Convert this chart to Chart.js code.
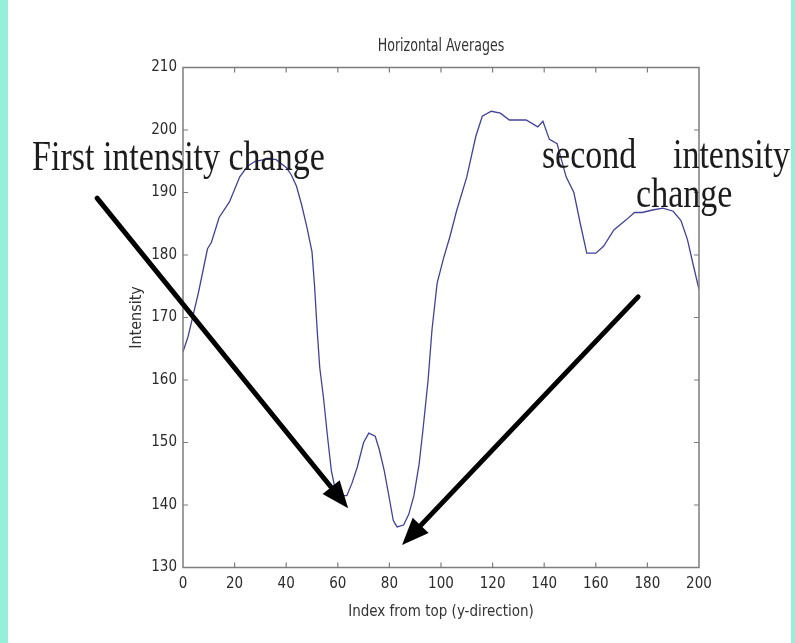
<!DOCTYPE html>
<html>
<head>
<meta charset="utf-8">
<script src="https://cdn.jsdelivr.net/npm/chart.js@4.4.1/dist/chart.umd.min.js"></script>
<style>
  html, body { margin: 0; padding: 0; background: #96f0d9; width: 795px; height: 643px; overflow: hidden; }
  #wrap { position: absolute; left: 8px; top: 0; width: 783px; height: 643px; background: #ffffff; }
  canvas { display: block; }
</style>
</head>
<body>
<div id="wrap"><canvas id="c" width="783" height="643"></canvas></div>
<script>
// ---- data ----
const indexFromTop = [0, 2, 4, 6, 8, 9.5, 11, 14, 18, 22, 25, 28, 32, 36, 40, 42, 44, 46, 48, 50,
  51, 52, 53, 54.5, 56, 57.5, 59, 61, 63.5, 65.5, 67.5, 70, 72, 74.5, 76, 78, 80, 81.5, 83, 85.5,
  87.5, 89.5, 91.5, 93, 95, 96.5, 98.5, 101, 103.5, 106, 110, 113.5, 116, 119.5, 123, 126.5, 133,
  137.5, 139.5, 142, 145, 148.5, 151.5, 154, 156.5, 160, 163, 167, 172, 175, 178, 182, 186, 190,
  193, 195.5, 198, 200];
const intensity = [164.5, 167, 170.5, 174, 178, 181, 182, 186, 188.5, 192.5, 194.2, 195, 195.3, 195.3, 194, 192.8, 191, 188, 184.5, 180.5,
  175, 168, 162, 157, 151, 145.5, 142.5, 141.5, 141.5, 143.5, 146, 150, 151.5, 151, 149, 145.5, 141, 137.5, 136.5, 136.8,
  138.5, 141.5, 146.5, 152, 160, 168, 175.5, 179.5, 183, 187, 192.5, 199, 202.2, 203, 202.7, 201.6, 201.6,
  200.5, 201.4, 198.5, 197.8, 192.5, 190, 185, 180.3, 180.3, 181.4, 184, 185.7, 186.8, 186.8, 187.2, 187.5, 187,
  185.5, 182.5, 178, 174.5];

const xRange = [0, 200];
const yRange = [130, 210];
const xStep = 20;
const yStep = 10;

const chartTitle = "Horizontal Averages";
const xTitle = "Index from top (y-direction)";
const yTitle = "Intensity";

// annotation texts (anchored in data coordinates)
const noteTexts = ["First intensity change", "second", "intensity", "change"];
const noteX = [-58.5, 139.1, 189.9, 175.6];
const noteY = [193.6, 193.9, 193.9, 187.7];

// arrows: start -> tip, in data coordinates
const arrowFromX = [-33.3, 176.4];
const arrowFromY = [189.1, 173.3];
const arrowToX = [64, 84.9];
const arrowToY = [139.5, 133.6];

const points = indexFromTop.map((x, i) => ({ x: x, y: intensity[i] }));

const frameColor = '#7d7d7d';
const smallFont = '"DejaVu Sans Condensed", "Liberation Sans", Arial, sans-serif';

const framePlugin = {
  id: 'matlabFrame',
  afterDraw(chart) {
    const { ctx, chartArea: a, scales } = chart;
    ctx.save();
    ctx.strokeStyle = frameColor;
    ctx.lineWidth = 1.5;
    ctx.strokeRect(a.left, a.top, a.right - a.left, a.bottom - a.top);
    const len = 5;
    ctx.lineWidth = 1.2;
    ctx.beginPath();
    scales.x.ticks.forEach(t => {
      const px = scales.x.getPixelForValue(t.value);
      if (t.value === xRange[0] || t.value === xRange[1]) return;
      ctx.moveTo(px, a.bottom); ctx.lineTo(px, a.bottom - len);
      ctx.moveTo(px, a.top); ctx.lineTo(px, a.top + len);
    });
    scales.y.ticks.forEach(t => {
      const py = scales.y.getPixelForValue(t.value);
      if (t.value === yRange[0] || t.value === yRange[1]) return;
      ctx.moveTo(a.left, py); ctx.lineTo(a.left + len, py);
      ctx.moveTo(a.right, py); ctx.lineTo(a.right - len, py);
    });
    ctx.stroke();

    // title
    ctx.fillStyle = '#333333';
    ctx.font = '14px ' + smallFont;
    ctx.textAlign = 'center';
    ctx.textBaseline = 'middle';
    ctx.save();
    ctx.translate((a.left + a.right) / 2, a.top - 21);
    ctx.scale(1, 1.2);
    ctx.fillText(chartTitle, 0, 0);
    ctx.restore();

    // arrows
    ctx.strokeStyle = '#000000';
    ctx.fillStyle = '#000000';
    for (let i = 0; i < arrowFromX.length; i++) {
      const x0 = scales.x.getPixelForValue(arrowFromX[i]);
      const y0 = scales.y.getPixelForValue(arrowFromY[i]);
      const x1 = scales.x.getPixelForValue(arrowToX[i]);
      const y1 = scales.y.getPixelForValue(arrowToY[i]);
      const ang = Math.atan2(y1 - y0, x1 - x0);
      const headLen = 27, headHalf = 11;
      const bx = x1 - headLen * Math.cos(ang), by = y1 - headLen * Math.sin(ang);
      ctx.lineWidth = 5;
      ctx.lineCap = 'round';
      ctx.beginPath();
      ctx.moveTo(x0, y0); ctx.lineTo(bx + 3 * Math.cos(ang), by + 3 * Math.sin(ang));
      ctx.stroke();
      ctx.beginPath();
      ctx.moveTo(x1, y1);
      ctx.lineTo(bx - headHalf * Math.sin(ang), by + headHalf * Math.cos(ang));
      ctx.lineTo(bx + headHalf * Math.sin(ang), by - headHalf * Math.cos(ang));
      ctx.closePath();
      ctx.fill();
    }

    // annotation texts
    ctx.fillStyle = '#1c1c1c';
    ctx.font = '34px "Liberation Serif", "Times New Roman", serif';
    ctx.textAlign = 'left';
    ctx.textBaseline = 'alphabetic';
    for (let i = 0; i < noteTexts.length; i++) {
      const px = scales.x.getPixelForValue(noteX[i]);
      const py = scales.y.getPixelForValue(noteY[i]);
      ctx.save();
      ctx.translate(px, py);
      ctx.scale(1, 1.24);
      ctx.fillText(noteTexts[i], 0, 0);
      ctx.restore();
    }
    ctx.restore();
  }
};

new Chart(document.getElementById('c'), {
  type: 'line',
  data: {
    datasets: [{
      data: points,
      borderColor: '#41419c',
      borderWidth: 1.3,
      pointRadius: 0,
      tension: 0,
      fill: false
    }]
  },
  options: {
    responsive: false,
    animation: false,
    events: [],
    layout: { padding: { left: 115, right: 92, top: 67.5, bottom: 18 } },
    plugins: { legend: { display: false }, tooltip: { enabled: false }, title: { display: false } },
    scales: {
      x: {
        type: 'linear',
        min: xRange[0], max: xRange[1],
        afterFit: s => { s.height = 57.5; },
        grid: { display: false, drawTicks: false },
        border: { display: false },
        ticks: {
          stepSize: xStep, padding: 8, color: '#2b2b2b',
          font: { family: smallFont, size: 15 }
        },
        title: {
          display: true, text: xTitle, color: '#333333', padding: { top: 4, bottom: 4 },
          font: { family: smallFont, size: 15 }
        }
      },
      y: {
        type: 'linear',
        min: yRange[0], max: yRange[1],
        afterFit: s => { s.width = 60; },
        grid: { display: false, drawTicks: false },
        border: { display: false },
        ticks: {
          stepSize: yStep, padding: 6, color: '#2b2b2b',
          font: { family: smallFont, size: 15 }
        },
        title: {
          display: true, text: yTitle, color: '#333333', padding: { top: 4, bottom: 4 },
          font: { family: smallFont, size: 16 }
        }
      }
    }
  },
  plugins: [framePlugin]
});
</script>
</body>
</html>
